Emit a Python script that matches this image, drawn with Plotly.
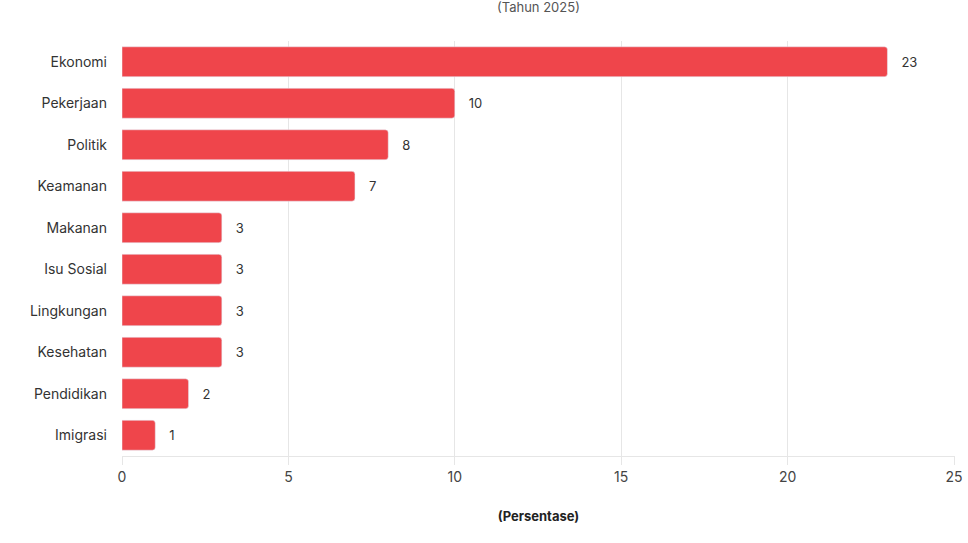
import plotly.graph_objects as go

categories = ["Ekonomi", "Pekerjaan", "Politik", "Keamanan", "Makanan",
              "Isu Sosial", "Lingkungan", "Kesehatan", "Pendidikan", "Imigrasi"]
values = [23, 10, 8, 7, 3, 3, 3, 3, 2, 1]
x_ticks = [0, 5, 10, 15, 20, 25]

fig = go.Figure()
fig.add_trace(go.Bar(
    x=values, y=categories, orientation="h",
    marker=dict(color="#EF454B", cornerradius=3),
    width=0.72,
    text=values, texttemplate="   %{x}", textposition="outside", cliponaxis=False,
    textfont=dict(family="Inter", size=13, color="#333333"),
))

fig.update_xaxes(range=[0, 25.03], tickvals=x_ticks, showgrid=True, gridcolor="#E6E6E6",
                 zeroline=False, showline=True, linecolor="#E6E6E6",
                 ticks="outside", ticklen=8, tickcolor="#E6E6E6", ticklabeloverflow="allow",
                 tickfont=dict(family="Inter", size=14, color="#444444"),
                 title=dict(text="<b>(Persentase)</b>", standoff=28,
                            font=dict(family="Inter", size=13, color="#222222")))
fig.update_yaxes(autorange="reversed", showgrid=False, ticks="", ticklabelstandoff=14,
                 tickfont=dict(family="Inter", size=14, color="#333333"))

fig.add_annotation(text="(Tahun 2025)", xref="paper", yref="paper", x=0.5, y=1.082,
                   xanchor="center", yanchor="middle", showarrow=False,
                   font=dict(family="Inter", size=13, color="#555555"))

fig.update_layout(
    width=968, height=543,
    margin=dict(l=122, r=5, t=41, b=87),
    plot_bgcolor="white", paper_bgcolor="white",
    showlegend=False, bargap=0.28,
)

# drop the page margin so the 968x543 figure fills the window exactly
fig.write_html("out.html",
               config={"responsive": False, "displayModeBar": False},
               post_script="document.body.style.margin='0';document.body.style.overflow='hidden';")
